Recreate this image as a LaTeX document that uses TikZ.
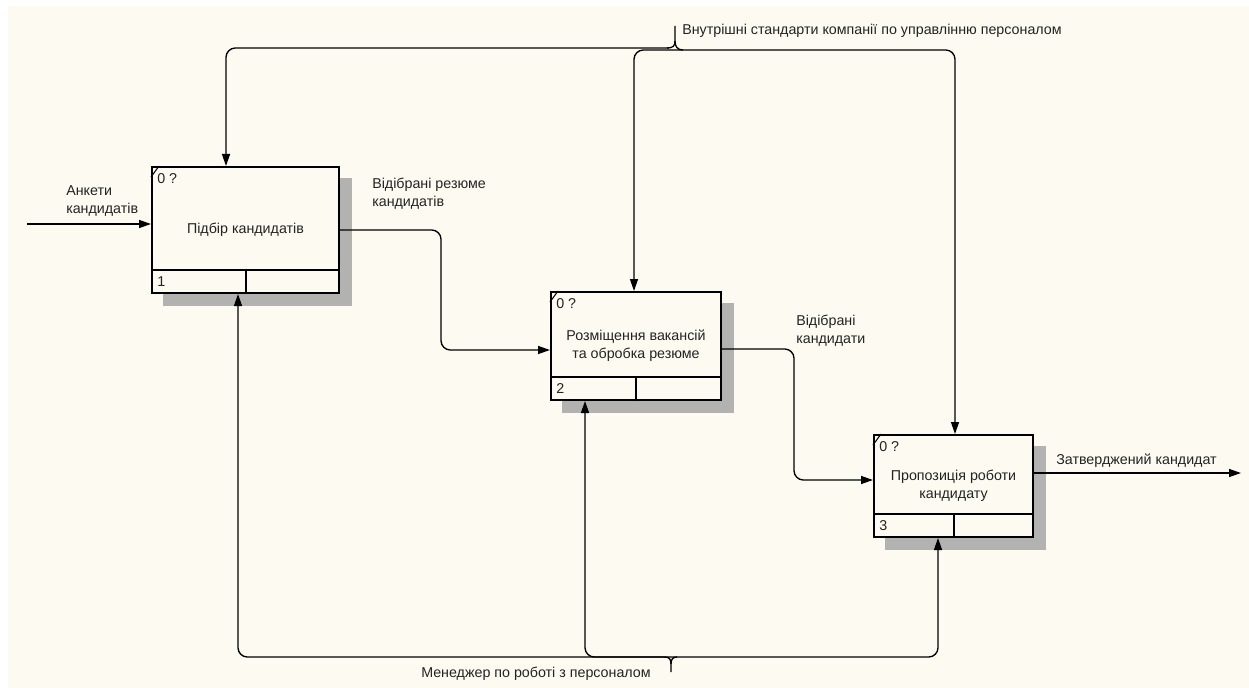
\documentclass[tikz,border=0pt]{standalone}
\usepackage{fontspec}
\setmainfont{Liberation Sans}
\usetikzlibrary{calc,arrows.meta,backgrounds}

\definecolor{paper}{RGB}{253,250,241}
\definecolor{ink}{RGB}{35,35,35}
\definecolor{shadowgray}{RGB}{178,178,176}

\tikzset{
  func/.style={draw, line width=1.5pt, fill=paper, rectangle, inner sep=0pt,
    align=center, text=ink, font=\fontsize{10.7}{13.5}\selectfont},
  lbl/.style={text=ink, inner sep=0pt, align=left, font=\fontsize{10.7}{13.5}\selectfont},
  tag/.style={text=ink, inner sep=0pt, font=\fontsize{10.7}{12}\selectfont},
  arrow/.style={line width=1pt, rounded corners=7pt,
    -{Triangle[length=9pt,width=6pt]}},
  both/.style={line width=1pt, rounded corners=7pt,
    {Triangle[length=9pt,width=6pt]}-{Triangle[length=9pt,width=6pt]}},
}

\begin{document}
\begin{tikzpicture}[x=0.75pt,y=-0.75pt]
\useasboundingbox (0,0) rectangle (1249,688);

% activity boxes (pixel geometry: width, height)
\node[func, minimum width=140.25pt, minimum height=94.5pt] (b1) at (245.5,230) {Підбір кандидатів};
\node[func, minimum width=127.5pt, minimum height=81pt] (b2) at (636,346) {Розміщення вакансій\\ та обробка резюме};
\node[func, minimum width=119.25pt, minimum height=76.5pt] (b3) at (953.5,486) {Пропозиція роботи\\кандидату};

% paper and drop shadows
\begin{scope}[on background layer]
  \fill[paper] (8,6) rectangle (1249,688);
  \foreach \b in {b1,b2,b3}
    \fill[shadowgray] ($(\b.north west)+(12,12)$) rectangle ($(\b.south east)+(12,12)$);
\end{scope}

% box furniture: bottom band, split, corner mark, labels
\foreach \b/\n in {b1/1,b2/2,b3/3}{
  \draw[line width=1.5pt] ($(\b.south west)+(0,-24)$) -- ($(\b.south east)+(0,-24)$);
  \draw[line width=1.5pt] (\b.south) -- ($(\b.south)+(0,-24)$);
  \draw[line width=0.8pt] ($(\b.north west)+(0,11)$) -- ($(\b.north west)+(8,0)$);
  \node[tag, anchor=west] at ($(\b.north west)+(6,13)$) {0 ?};
  \node[tag, anchor=west] at ($(\b.south west)+(6,-12)$) {\n};
}

% input
\coordinate (in1) at (27,224);
\draw[arrow] (in1) -- (in1 -| b1.west);
\node[lbl, anchor=north west] at (66,185) {Анкети\\кандидатів};

% outputs
\draw[arrow] (b1.east |- 0,230) -- (441,230) -- (441,350) -- (b2.west |- 0,350);
\node[lbl, anchor=north west] at (372,178) {Відібрані резюме\\кандидатів};

\draw[arrow] (b2.east |- 0,349) -- (794,349) -- (794,480) -- (b3.west |- 0,480);
\node[lbl, anchor=north west] at (796,315) {Відібрані\\кандидати};

\coordinate (out3) at (1241,473);
\draw[arrow] (b3.east |- out3) -- (out3);
\node[lbl, anchor=south west] at (1056,468) {Затверджений кандидат};

% controls
\coordinate (ctl) at (675,26);
\draw[arrow] (669,48) -- (226,48) -- (b1.north -| 226,0);
\draw[both] (b2.north -| 634,0) -- (634,50) -- (955,50) -- (b3.north -| 955,0);
\draw[line width=1pt] (667,48) .. controls (673,48) and (675,46) .. (675,41) -- (ctl);
\draw[line width=1pt] (683,50) .. controls (677,50) and (675,46) .. (675,41);
\node[lbl, anchor=west] at (682,31) {Внутрішні стандарти компанії по управлінню персоналом};

% mechanisms
\coordinate (mech) at (671,672);
\draw[arrow] (665,657) -- (238,657) -- (b1.south -| 238,0);
\draw[both] (b2.south -| 585,0) -- (585,657) -- (938,657) -- (b3.south -| 938,0);
\draw[line width=1pt] (665,657) .. controls (669,657) and (671,659) .. (671,664) -- (mech);
\draw[line width=1pt] (677,657) .. controls (673,657) and (671,659) .. (671,664);
\node[lbl, anchor=center] at (536,674) {Менеджер по роботі з персоналом};
\end{tikzpicture}
\end{document}
